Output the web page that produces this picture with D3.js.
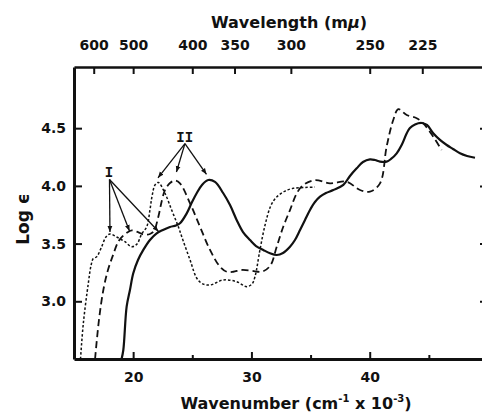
<!DOCTYPE html>
<html>
<head>
<meta charset="utf-8">
<script src="https://cdn.jsdelivr.net/npm/d3@7"></script>
<style>
  body { margin: 0; background: #fff; }
  svg { display: block; }
  text { font-family: "DejaVu Sans", sans-serif; font-weight: bold; fill: #111; }
  .axis path, .axis line { stroke: #111; }
  .axis text { font-size: 14px; font-family: "DejaVu Sans", sans-serif; font-weight: bold; }
</style>
</head>
<body>
<svg id="chart" width="482" height="415"></svg>
<script>
// wavenumber (cm-1 x 10-3) and log epsilon
var dottedX = [15.55, 15.79, 16.21, 16.44, 16.63, 16.92, 17.34, 17.7, 18.04, 18.61, 19.31, 19.88, 20.33, 20.72, 21.15, 21.42, 21.59, 21.85, 22.13, 22.69, 23.26, 23.82, 24.21, 24.81, 25.37, 25.82, 26.5, 27.62, 28.75, 29.6, 30.05, 30.3, 30.72, 31.15, 31.65, 32.16, 32.84, 33.54, 34.53, 35.37];
var dottedY = [2.5, 2.81, 3.156, 3.31, 3.37, 3.386, 3.473, 3.557, 3.583, 3.557, 3.516, 3.473, 3.497, 3.583, 3.646, 3.79, 3.906, 4.008, 4.03, 3.936, 3.79, 3.646, 3.53, 3.358, 3.202, 3.154, 3.141, 3.185, 3.17, 3.127, 3.15, 3.213, 3.445, 3.66, 3.83, 3.906, 3.955, 3.979, 3.986, 3.99];

var dashedX = [16.78, 17.11, 17.48, 17.87, 18.3, 18.74, 19.14, 19.57, 19.9, 20.41, 20.92, 21.42, 21.76, 22.13, 22.44, 22.69, 23.12, 23.54, 23.96, 24.81, 25.65, 26.5, 27.34, 27.91, 28.47, 29.12, 29.88, 30.55, 31.0, 31.6, 32.14, 32.69, 33.26, 33.83, 34.38, 35.37, 36.64, 38.05, 39.18, 40.02, 40.87, 41.43, 41.99, 42.42, 43.13, 43.97, 44.53, 45.37, 46.08];
var dashedY = [2.5, 2.838, 3.098, 3.271, 3.4, 3.516, 3.566, 3.6, 3.614, 3.6, 3.578, 3.583, 3.61, 3.733, 3.878, 3.964, 4.025, 4.047, 4.022, 3.849, 3.646, 3.445, 3.3, 3.256, 3.256, 3.271, 3.267, 3.256, 3.26, 3.31, 3.473, 3.646, 3.79, 3.935, 4.007, 4.05, 4.022, 4.036, 3.964, 3.95, 4.022, 4.34, 4.571, 4.664, 4.614, 4.586, 4.542, 4.426, 4.311];

var solidX = [19.02, 19.17, 19.45, 19.73, 20.01, 20.41, 20.86, 21.42, 21.99, 22.52, 23.11, 23.62, 23.96, 24.53, 24.98, 25.37, 25.82, 26.35, 26.92, 27.62, 28.19, 28.75, 29.29, 29.88, 30.39, 31.0, 31.57, 32.14, 32.67, 33.26, 33.68, 34.11, 34.53, 34.95, 35.37, 35.8, 36.3, 36.92, 37.77, 38.33, 38.9, 39.43, 40.02, 40.45, 40.87, 41.43, 41.8, 42.28, 42.7, 43.13, 43.4, 43.83, 44.39, 44.84, 45.37, 45.94, 46.51, 47.04, 47.63, 48.23, 48.9];
var solidY = [2.5, 2.578, 2.953, 3.098, 3.243, 3.358, 3.445, 3.531, 3.589, 3.618, 3.644, 3.657, 3.676, 3.762, 3.86, 3.936, 4.008, 4.051, 4.034, 3.936, 3.834, 3.705, 3.6, 3.531, 3.479, 3.445, 3.416, 3.401, 3.419, 3.473, 3.531, 3.618, 3.705, 3.791, 3.86, 3.906, 3.938, 3.964, 4.008, 4.086, 4.152, 4.207, 4.23, 4.224, 4.21, 4.21, 4.233, 4.282, 4.354, 4.456, 4.502, 4.532, 4.545, 4.528, 4.456, 4.398, 4.354, 4.32, 4.282, 4.259, 4.244];

var xTicks = [20, 30, 40];
var xMinorTicks = [25, 35, 45];
var yTicks = [3.0, 3.5, 4.0, 4.5];
var wavelengthTicks = [600, 500, 400, 350, 300, 250, 225];

// band labels: label position, arrow start, arrow tips
var bandI = { label: "I", at: [17.96, 4.12], from: [18.0, 4.055],
  tips: [[18.04, 3.60], [19.69, 3.61], [22.14, 3.605]] };
var bandII = { label: "II", at: [24.36, 4.424], from: [24.38, 4.366],
  tips: [[22.1, 4.07], [23.66, 4.12], [26.2, 4.10]] };

var svg = d3.select("#chart");

var x = d3.scaleLinear().domain([15, 50]).range([74, 488]);
var y = d3.scaleLinear().domain([2.5, 5.03]).range([359, 67]);

var defs = svg.append("defs");
defs.append("clipPath").attr("id", "plot")
  .append("rect").attr("x", 74).attr("y", 67).attr("width", 414).attr("height", 292);

defs.append("marker")
    .attr("id", "arrow")
    .attr("viewBox", "0 0 10 10")
    .attr("refX", 10).attr("refY", 5)
    .attr("markerWidth", 6).attr("markerHeight", 6)
    .attr("markerUnits", "userSpaceOnUse")
    .attr("orient", "auto")
  .append("path")
    .attr("d", "M0,1 L10,5 L0,9 Z")
    .attr("fill", "#111");

// axes
svg.append("g")
    .attr("class", "axis")
    .attr("transform", "translate(0,359)")
    .call(d3.axisBottom(x).tickValues(xTicks).tickSizeInner(-7).tickSizeOuter(0).tickPadding(13))
    .select(".domain").attr("stroke-width", 3);

svg.append("g")
    .attr("class", "axis")
    .attr("transform", "translate(0,359)")
    .call(d3.axisBottom(x).tickValues(xMinorTicks).tickSizeInner(-4).tickSizeOuter(0).tickFormat(""))
    .select(".domain").remove();

svg.append("g")
    .attr("class", "axis")
    .attr("transform", "translate(0,67)")
    .call(d3.axisTop(x)
      .tickValues(wavelengthTicks.map(function(l) { return 1e4 / l; }))
      .tickFormat(function(d, i) { return wavelengthTicks[i]; })
      .tickSizeInner(-7).tickSizeOuter(0).tickPadding(17))
    .select(".domain").attr("stroke-width", 2.5);

svg.append("g")
    .attr("class", "axis")
    .attr("transform", "translate(74,0)")
    .call(d3.axisLeft(y).tickValues(yTicks).tickFormat(d3.format(".1f"))
      .tickSizeInner(-8).tickSizeOuter(0).tickPadding(8))
    .select(".domain").attr("stroke-width", 3);

svg.append("g")
    .attr("class", "axis")
    .attr("transform", "translate(488,0)")
    .call(d3.axisRight(y).tickValues(yTicks).tickFormat("").tickSizeInner(-8).tickSizeOuter(0));

svg.selectAll(".axis .tick line").attr("stroke-width", 2);

// curves
var line = d3.line()
    .x(function(d) { return x(d[0]); })
    .y(function(d) { return y(d[1]); })
    .curve(d3.curveCatmullRom.alpha(0.5));

var curves = svg.append("g").attr("clip-path", "url(#plot)");

curves.append("path")
    .datum(d3.zip(dottedX, dottedY))
    .attr("d", line)
    .attr("fill", "none").attr("stroke", "#111")
    .attr("stroke-width", 1.5).attr("stroke-dasharray", "2.5,2");

curves.append("path")
    .datum(d3.zip(dashedX, dashedY))
    .attr("d", line)
    .attr("fill", "none").attr("stroke", "#111")
    .attr("stroke-width", 1.8).attr("stroke-dasharray", "7,4");

curves.append("path")
    .datum(d3.zip(solidX, solidY))
    .attr("d", line)
    .attr("fill", "none").attr("stroke", "#111")
    .attr("stroke-width", 2.2);

// band annotations
[bandI, bandII].forEach(function(b) {
  svg.append("text")
      .attr("x", x(b.at[0])).attr("y", y(b.at[1]))
      .attr("dy", "0.35em")
      .attr("text-anchor", "middle")
      .style("font-family", "'Liberation Mono', monospace")
      .style("font-size", "14px")
      .text(b.label);
  svg.selectAll(null)
    .data(b.tips)
    .enter().append("line")
      .attr("x1", x(b.from[0])).attr("y1", y(b.from[1]))
      .attr("x2", function(d) { return x(d[0]); })
      .attr("y2", function(d) { return y(d[1]); })
      .attr("stroke", "#111").attr("stroke-width", 1.3)
      .attr("marker-end", "url(#arrow)");
});

// titles
var topTitle = svg.append("text")
    .attr("x", 289).attr("y", 28)
    .attr("text-anchor", "middle")
    .style("font-size", "16px");
topTitle.append("tspan").text("Wavelength (m");
topTitle.append("tspan").style("font-style", "italic").text("\u03bc");
topTitle.append("tspan").text(")");

var bottomTitle = svg.append("text")
    .attr("x", 296).attr("y", 409)
    .attr("text-anchor", "middle")
    .style("font-size", "16px");
bottomTitle.append("tspan").text("Wavenumber (cm");
bottomTitle.append("tspan").attr("dy", -7).style("font-size", "10px").text("-1");
bottomTitle.append("tspan").attr("dy", 7).text(" x 10");
bottomTitle.append("tspan").attr("dy", -7).style("font-size", "10px").text("-3");
bottomTitle.append("tspan").attr("dy", 7).text(")");

svg.append("text")
    .attr("transform", "translate(29,219) rotate(-90)")
    .attr("text-anchor", "middle")
    .style("font-size", "17px")
    .text("Log \u03f5");
</script>
</body>
</html>
